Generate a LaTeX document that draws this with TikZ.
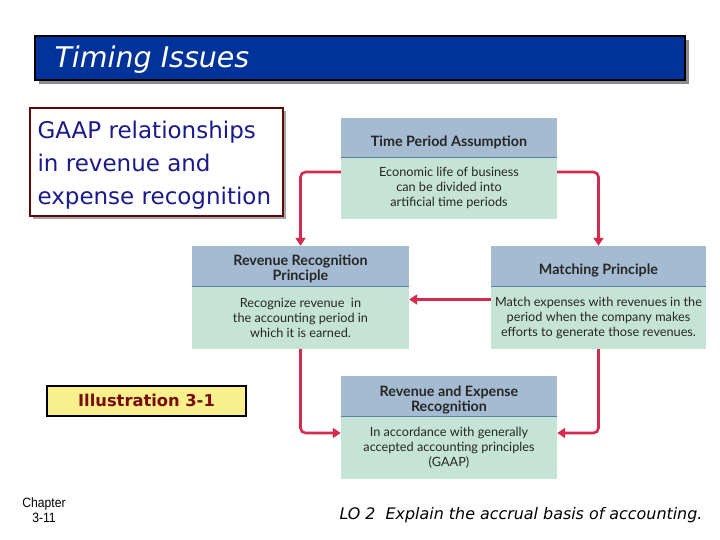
\documentclass[tikz,border=0pt]{standalone}
\usepackage{fontspec}
\setmainfont{Lato}
\newfontfamily\comic{DejaVu Sans}
\newfontfamily\narrowf[FakeStretch=0.9]{Liberation Sans}
\usetikzlibrary{arrows.meta}
\definecolor{barblue}{HTML}{003399}
\definecolor{hdrblue}{HTML}{A5BBD1}
\definecolor{hdrline}{HTML}{5B7FA6}
\definecolor{bodygreen}{HTML}{C5E4D6}
\definecolor{arrred}{HTML}{D42A4E}
\definecolor{navytext}{HTML}{1A1A8C}
\definecolor{darkred}{HTML}{5C0A0A}
\definecolor{illyellow}{HTML}{F8F08C}
\definecolor{illred}{HTML}{7A0A0A}
\tikzset{
  hdr/.style={fill=hdrblue, draw=none, inner sep=0pt},
  hdrtext/.style={inner sep=0pt, align=center,
    font=\fontsize{14.3}{15}\selectfont\bfseries, text=black!85},
  bdy/.style={fill=bodygreen, draw=none, inner sep=0pt, align=center,
    font=\fontsize{12.7}{15}\selectfont, text=black!85},
  arr/.style={draw=arrred, line width=2.6pt, rounded corners=5pt,
    -{Triangle[width=10pt,length=8pt]}},
}
\begin{document}
\begin{tikzpicture}[x=1pt,y=-1pt]
\useasboundingbox (0,0) rectangle (720,540);
% title bar
\fill[gray!90] (39,40) rectangle (689,84);
\node[draw=black, line width=1.8pt, fill=barblue, minimum width=650pt, minimum height=44pt, inner sep=0pt] (bar) at (360,58) {};
\node[anchor=west, text=white, font=\comic\itshape\fontsize{28.5}{30}\selectfont] (title) at (51,60) {Timing Issues};
% GAAP box
\fill[gray!70] (33,111) rectangle (286,219);
\node[draw=darkred, line width=2.6pt, fill=white, minimum width=253pt, minimum height=108pt, inner sep=0pt] (gaapbox) at (156.5,162) {};
\node[anchor=west, align=left, text=navytext, font=\comic\fontsize{23}{33}\selectfont] (gaap) at (34,165) {GAAP relationships\\in revenue and\\expense recognition};
% Time Period
\node[hdr, minimum width=216pt, minimum height=39pt] (tph) at (449,137.5) {};
\node[hdrtext] (tpt) at ([yshift=-4.5pt]tph.center) {Time Period Assumption};
\node[bdy, minimum width=216pt, minimum height=62pt] (tpb) at (449,188) {Economic life of business\\can be divided into\\artificial time periods};
\draw[hdrline, line width=1.2pt] (tph.south west) -- (tph.south east);
% Revenue Recognition
\node[hdr, minimum width=217pt, minimum height=40pt] (rrh) at (300.5,266) {};
\node[hdrtext] (rrt) at ([yshift=-3pt]rrh.center) {Revenue Recognition\\Principle};
\node[bdy, minimum width=217pt, minimum height=63pt] (rrb) at (300.5,317.5) {Recognize revenue\ \ in\\the accounting period in\\which it is earned.};
\draw[hdrline, line width=1.2pt] (rrh.south west) -- (rrh.south east);
% Matching
\node[hdr, minimum width=215pt, minimum height=40pt] (mph) at (598.5,266) {};
\node[hdrtext] (mpt) at ([yshift=-4.5pt]mph.center) {Matching Principle};
\node[bdy, minimum width=215pt, minimum height=63pt] (mpb) at (598.5,317.5) {Match expenses with revenues in the\\period when the company makes\\efforts to generate those revenues.};
\draw[hdrline, line width=1.2pt] (mph.south west) -- (mph.south east);
% Revenue and Expense Recognition
\node[hdr, minimum width=216pt, minimum height=40pt] (reh) at (449,396) {};
\node[hdrtext] (ret) at ([yshift=-4pt]reh.center) {Revenue and Expense\\Recognition};
\node[bdy, minimum width=216pt, minimum height=63pt] (reb) at (449,447.5) {In accordance with generally\\accepted accounting principles\\(GAAP)};
\draw[hdrline, line width=1.2pt] (reh.south west) -- (reh.south east);
% arrows
\draw[arr] ([yshift=16pt]tpb.west) -| (rrh.north);
\draw[arr] ([yshift=16pt]tpb.east) -| (mph.north);
\draw[arr] ([yshift=18pt]mpb.west) -- ([yshift=18pt]rrb.east);
\draw[arr] (rrb.south) |- ([yshift=14.5pt]reb.west);
\draw[arr] (mpb.south) |- ([yshift=14.5pt]reb.east);
% Illustration
\node[draw=black, line width=2.4pt, fill=illyellow, minimum width=199pt, minimum height=30pt, inner sep=0pt] (illbox) at (146.5,401) {};
\node[text=illred, font=\comic\bfseries\fontsize{16.3}{17}\selectfont] (ill) at (146.5,400) {Illustration 3-1};
% footer
\node[align=center, font=\narrowf\fontsize{13.5}{15}\selectfont] (chap) at (44,510.5) {Chapter\\3-11};
\node[anchor=west, font=\comic\itshape\fontsize{15.9}{17}\selectfont] (lo) at (336,515) {LO 2\ \ Explain the accrual basis of accounting.};
\end{tikzpicture}
\end{document}
